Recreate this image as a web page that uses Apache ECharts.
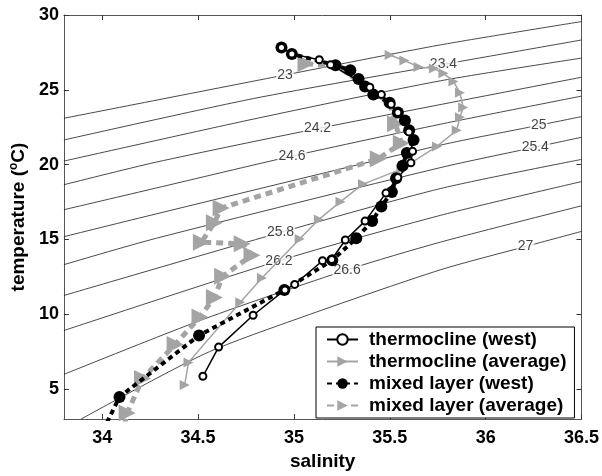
<!DOCTYPE html>
<html>
<head>
<meta charset="utf-8">
<script src="https://cdn.jsdelivr.net/npm/echarts@6/dist/echarts.min.js"></script>
<style>
  html, body { margin: 0; padding: 0; background: #fff; }
  #chart { width: 602px; height: 476px; }
</style>
</head>
<body>
<div id="chart"></div>
<script>
// Axis ticks
const salinityTicks = [34, 34.5, 35, 35.5, 36, 36.5];
const temperatureTicks = [5, 10, 15, 20, 25, 30];

// Legend / series names
const seriesNames = ['thermocline (west)', 'thermocline (average)', 'mixed layer (west)', 'mixed layer (average)'];

// [salinity, temperature] profiles
const thermoclineWest = [
  [34.935, 27.83], [34.989, 27.40], [35.132, 27.01], [35.191, 26.68], [35.396, 25.17],
  [35.456, 24.68], [35.507, 24.03], [35.542, 23.49], [35.600, 22.19], [35.619, 20.89],
  [35.610, 20.13], [35.542, 19.15], [35.480, 18.10], [35.371, 16.23], [35.268, 14.97],
  [35.197, 13.67], [35.149, 13.58], [35.004, 12.00], [34.953, 11.63], [34.787, 9.94],
  [34.607, 7.81], [34.525, 5.86]
];
const thermoclineAverage = [
  [35.499, 27.33], [35.576, 26.96], [35.650, 26.53], [35.730, 26.42], [35.780, 26.10],
  [35.832, 25.56], [35.866, 24.80], [35.883, 23.82], [35.866, 23.17], [35.849, 22.30],
  [35.746, 21.22], [35.560, 19.70], [35.360, 18.70], [35.243, 17.53], [35.130, 16.34],
  [35.030, 15.04], [34.833, 12.43], [34.720, 10.81], [34.450, 6.79], [34.430, 5.28]
];
const mixedLayerWest = [
  [34.935, 27.83], [34.989, 27.40], [35.217, 26.64], [35.294, 26.31], [35.337, 25.73],
  [35.371, 25.23], [35.414, 24.68], [35.499, 24.14], [35.542, 23.49], [35.579, 22.95],
  [35.601, 22.30], [35.624, 21.65], [35.589, 20.78], [35.567, 19.92], [35.533, 19.09],
  [35.511, 18.18], [35.456, 17.20], [35.408, 16.23], [35.325, 15.08], [35.200, 13.62],
  [34.950, 11.63], [34.505, 8.59], [34.090, 4.48], [34.010, 2.40]
];
const mixedLayerAverage = [
  [35.063, 26.75], [35.230, 26.55], [35.380, 25.20], [35.500, 24.10], [35.530, 22.73],
  [35.560, 21.43], [35.440, 20.40], [34.620, 17.10], [34.585, 16.12], [34.517, 14.82],
  [34.730, 14.71], [34.781, 13.95], [34.628, 12.54], [34.585, 11.13], [34.510, 9.83],
  [34.380, 7.99], [34.210, 5.71], [34.130, 3.40], [34.110, 2.30]
];
// points of the averaged mixed-layer profile lying beneath the west profile (no marker drawn)
const mixedLayerAverageUnmarked = [1, 2, 3];

// Potential density (sigma) isolines: [salinity, temperature] along each level
const sigmaLevels = [23, 23.4, 23.8, 24.2, 24.6, 25, 25.4, 25.8, 26.2, 26.6, 27];
const sigmaLines = [
  [[33.8, 23.10], [34.953, 25.99], [35.763, 28.00], [36.5, 29.56]],
  [[33.8, 21.65], [34.79, 24.42], [35.78, 26.70], [36.5, 28.33]],
  [[33.8, 20.24], [34.79, 23.05], [35.763, 25.60], [36.5, 27.12]],
  [[33.8, 18.66], [34.278, 20.16], [35.123, 22.41], [36.5, 25.84]],
  [[33.8, 16.99], [34.278, 18.43], [34.99, 20.57], [35.763, 22.70], [36.5, 24.58]],
  [[33.8, 15.19], [34.278, 16.70], [35.763, 21.30], [36.277, 22.63], [36.5, 23.21]],
  [[33.8, 13.32], [34.278, 15.07], [35.763, 19.80], [36.259, 21.17], [36.5, 21.83]],
  [[33.8, 11.26], [34.93, 15.47], [35.763, 18.40], [36.5, 20.35]],
  [[33.8, 8.92], [34.922, 13.58], [35.763, 16.61], [36.5, 18.87]],
  [[33.8, 5.99], [34.534, 9.70], [35.277, 12.97], [35.763, 14.82], [36.5, 17.25]],
  [[33.889, 3.0], [34.534, 7.36], [35.046, 9.83], [35.763, 12.97], [36.208, 14.53], [36.5, 15.54]]
];
// Inline labels on the isolines: [salinity, temperature, text]
const sigmaLabels = [
  [34.953, 25.99, '23'], [35.78, 26.70, '23.4'], [35.123, 22.41, '24.2'], [34.99, 20.57, '24.6'],
  [36.277, 22.63, '25'], [36.259, 21.17, '25.4'], [34.93, 15.47, '25.8'], [34.922, 13.58, '26.2'],
  [35.277, 12.97, '26.6'], [36.208, 14.53, '27']
];

const FONT = '"Liberation Sans", Arial, Helvetica, sans-serif';
const GRAY = '#a4a4a4';

const chart = echarts.init(document.getElementById('chart'), null, { renderer: 'canvas' });

const boxLine = { show: true, onZero: false, lineStyle: { color: '#555', width: 1 } };
const tickLabel = { fontFamily: FONT, fontWeight: 'bold', fontSize: 18, color: '#000' };

const isolineSeries = sigmaLines.map((pts, i) => ({
  name: 'sigma ' + sigmaLevels[i],
  type: 'line',
  data: pts,
  symbol: 'none',
  smooth: 0.25,
  silent: true,
  clip: true,
  z: 1,
  lineStyle: { color: '#1a1a1a', width: 0.8 }
}));

const labelSeries = {
  type: 'scatter',
  silent: true,
  z: 2,
  symbolSize: 1,
  itemStyle: { color: 'transparent' },
  data: sigmaLabels.map(d => ({ value: [d[0], d[1]], name: d[2] })),
  label: {
    show: true,
    position: 'inside',
    formatter: '{b}',
    fontFamily: FONT,
    fontSize: 14,
    color: '#111',
    backgroundColor: '#fff',
    padding: [0, 1]
  }
};

const mixedAverageData = mixedLayerAverage.map((p, i) =>
  mixedLayerAverageUnmarked.includes(i) ? { value: p, symbol: 'none' } : p);

chart.setOption({
  animation: false,
  backgroundColor: '#fff',
  grid: { left: 57, right: 19, top: 15, bottom: 46, containLabel: false },
  xAxis: [
    {
      type: 'value', min: 33.8, max: 36.5, position: 'bottom',
      axisLine: boxLine,
      axisTick: { show: true, inside: true, length: 5, customValues: salinityTicks, lineStyle: { color: '#333' } },
      axisLabel: Object.assign({ customValues: salinityTicks, margin: 10 }, tickLabel),
      splitLine: { show: false },
      name: 'salinity', nameLocation: 'middle', nameGap: 28,
      nameTextStyle: { fontFamily: FONT, fontWeight: 'bold', fontSize: 19, color: '#000' }
    },
    {
      type: 'value', min: 33.8, max: 36.5, position: 'top',
      axisLine: boxLine,
      axisTick: { show: true, inside: true, length: 5, customValues: salinityTicks, lineStyle: { color: '#333' } },
      axisLabel: { show: false },
      splitLine: { show: false }
    }
  ],
  yAxis: [
    {
      type: 'value', min: 3, max: 30, position: 'left',
      axisLine: boxLine,
      axisTick: { show: true, inside: true, length: 5, customValues: temperatureTicks, lineStyle: { color: '#333' } },
      axisLabel: Object.assign({ customValues: temperatureTicks, margin: 5 }, tickLabel),
      splitLine: { show: false },
      name: 'temperature ({sup|o}C)', nameLocation: 'middle', nameGap: 27,
      nameTextStyle: {
        fontFamily: FONT, fontWeight: 'bold', fontSize: 19, color: '#000',
        rich: { sup: { fontFamily: FONT, fontWeight: 'bold', fontSize: 12, color: '#000', verticalAlign: 'top', padding: [0, 0, 9, 0] } }
      }
    },
    {
      type: 'value', min: 3, max: 30, position: 'right',
      axisLine: boxLine,
      axisTick: { show: true, inside: true, length: 5, customValues: temperatureTicks, lineStyle: { color: '#333' } },
      axisLabel: { show: false },
      splitLine: { show: false }
    }
  ],
  legend: {
    data: seriesNames,
    orient: 'vertical',
    left: 316, top: 327,
    itemWidth: 31, itemHeight: 13, itemGap: 3,
    padding: [3, 8, 3, 10],
    borderColor: '#000', borderWidth: 1, borderRadius: 0,
    backgroundColor: '#fff',
    selectedMode: false,
    z: 20,
    textStyle: { fontFamily: FONT, fontWeight: 'bold', fontSize: 19, color: '#000', padding: [0, 0, 0, 6] }
  },
  series: [
    ...isolineSeries,
    labelSeries,
    {
      name: seriesNames[0], type: 'line', data: thermoclineWest, z: 6,
      symbol: 'emptyCircle', symbolSize: 7,
      lineStyle: { color: '#000', width: 1.5 },
      itemStyle: { color: '#000', borderWidth: 1.5 }
    },
    {
      name: seriesNames[1], type: 'line', data: thermoclineAverage, z: 4,
      symbol: 'triangle', symbolRotate: -90, symbolSize: 10,
      lineStyle: { color: GRAY, width: 1.5 },
      itemStyle: { color: GRAY }
    },
    {
      name: seriesNames[2], type: 'line', data: mixedLayerWest, z: 5,
      symbol: 'circle', symbolSize: 12,
      lineStyle: { color: '#000', width: 4, type: [5, 4] },
      itemStyle: { color: '#000' }
    },
    {
      name: seriesNames[3], type: 'line', data: mixedAverageData, z: 3,
      symbol: 'triangle', symbolRotate: -90, symbolSize: 17,
      lineStyle: { color: GRAY, width: 5, type: [7, 5] },
      itemStyle: { color: GRAY }
    }
  ]
});
</script>
</body>
</html>
